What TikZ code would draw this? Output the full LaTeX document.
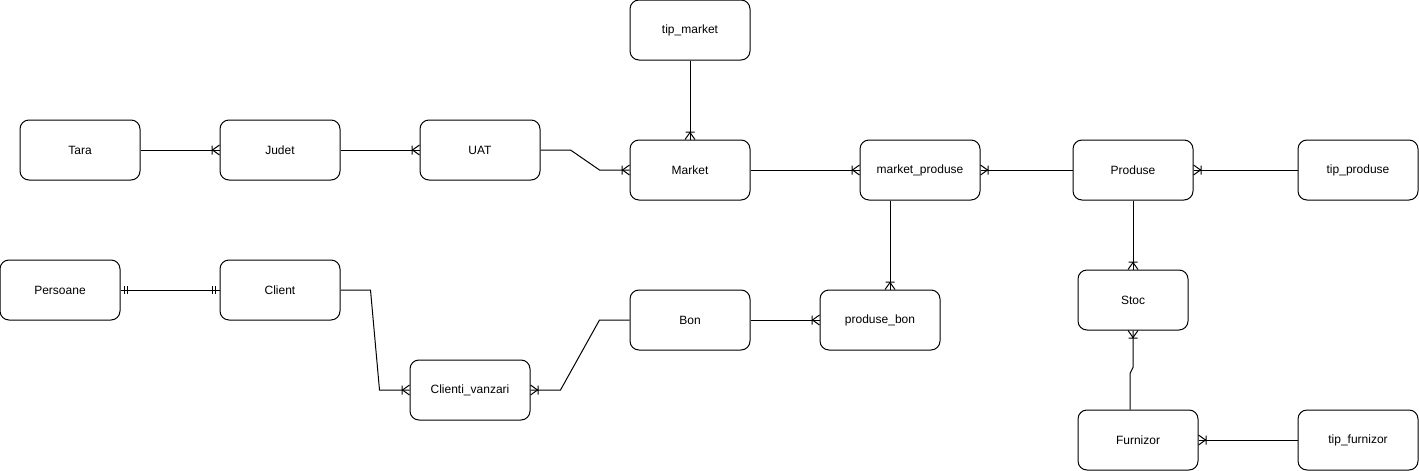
\documentclass[tikz,border=0pt]{standalone}
\usepackage{fontspec}
\setmainfont{Liberation Sans}
\usetikzlibrary{arrows.meta}

% crow's foot (one or many)
\pgfdeclarearrow{
  name = crow,
  setup code = {
    \pgfarrowssettipend{0pt}
    \pgfarrowssetlineend{0pt}
    \pgfarrowssetbackend{-8pt}
    \pgfarrowssetvisualbackend{-8pt}
    \pgfarrowshullpoint{0pt}{5pt}
    \pgfarrowshullpoint{0pt}{-5pt}
    \pgfarrowshullpoint{-8pt}{0pt}
  },
  drawing code = {
    \pgfpathmoveto{\pgfpoint{0pt}{5pt}}
    \pgfpathlineto{\pgfpoint{-7pt}{0pt}}
    \pgfpathlineto{\pgfpoint{0pt}{-5pt}}
    \pgfpathmoveto{\pgfpoint{-7.5pt}{4.5pt}}
    \pgfpathlineto{\pgfpoint{-7.5pt}{-4.5pt}}
    \pgfusepathqstroke
  }
}
% one and only one
\pgfdeclarearrow{
  name = onlyone,
  setup code = {
    \pgfarrowssettipend{0pt}
    \pgfarrowssetlineend{0pt}
    \pgfarrowssetbackend{-8pt}
    \pgfarrowssetvisualbackend{-8pt}
    \pgfarrowshullpoint{0pt}{4pt}
    \pgfarrowshullpoint{-8pt}{-4pt}
  },
  drawing code = {
    \pgfpathmoveto{\pgfpoint{-4pt}{4pt}}
    \pgfpathlineto{\pgfpoint{-4pt}{-4pt}}
    \pgfpathmoveto{\pgfpoint{-7pt}{4pt}}
    \pgfpathlineto{\pgfpoint{-7pt}{-4pt}}
    \pgfusepathqstroke
  }
}

\tikzset{
  ent/.style={draw, rounded corners=9pt, minimum width=120pt, minimum height=60pt,
    inner sep=0pt, font=\fontsize{12}{14}\selectfont},
  stocbox/.style={ent, minimum width=110pt}
}

\begin{document}
\begin{tikzpicture}[x=1pt, y=-1pt, line width=1pt]
      \useasboundingbox (0,0) rectangle (1419,471);
      \draw
        (690,30) node[ent] (tipmarket){tip\_market}
        (80,150) node[ent] (tara){Tara}
        (280,150) node[ent] (judet){Judet}
        (480,150) node[ent] (uat){UAT}
        (690,170) node[ent] (market){Market}
        (920,170) node[ent] (mprod){market\_produse}
        (1133,170) node[ent] (produse){Produse}
        (1358,170) node[ent] (tipprod){tip\_produse}
        (60,290) node[ent] (pers){Persoane}
        (280,290) node[ent] (client){Client}
        (690,320) node[ent] (bon){Bon}
        (880,320) node[ent] (pbon){produse\_bon}
        (1133,300) node[stocbox] (stoc){Stoc}
        (470,390) node[ent] (cv){Clienti\_vanzari}
        (1138,440) node[ent] (furn){Furnizor}
        (1358,440) node[ent] (tipfurn){tip\_furnizor};
      \begin{scope}[-crow]
        \draw (tara) -- (judet);
        \draw (judet) -- (uat);
        \draw (uat.east) -- ++(30,0) -- ([xshift=-30pt]market.west) -- (market.west);
        \draw (tipmarket) -- (market);
        \draw (market) -- (mprod);
        \draw (produse) -- (mprod);
        \draw (tipprod) -- (produse);
        \draw ([xshift=-30pt]mprod.south) -- ([xshift=10pt]pbon.north);
        \draw (bon) -- (pbon);
        \draw (client.east) -- ++(30,0) -- ([xshift=-30pt]cv.west) -- (cv.west);
        \draw (bon.west) -- ++(-30,0) -- ([xshift=30pt]cv.east) -- (cv.east);
        \draw (produse) -- (stoc);
        \draw ([xshift=-8pt]furn.north) -- ++(0,-36) -- ++(3,-6) -- (stoc.south);
        \draw (tipfurn) -- (furn);
      \end{scope}
      \draw[onlyone-onlyone] (pers) -- (client);
    \end{tikzpicture}
\end{document}
